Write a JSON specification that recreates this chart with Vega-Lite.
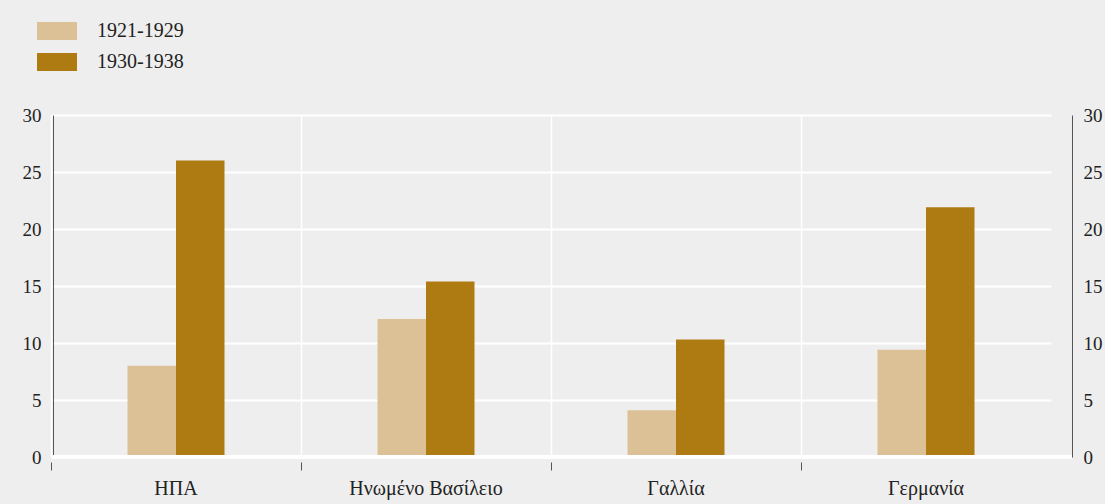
{
  "$schema": "https://vega.github.io/schema/vega-lite/v6.json",
  "width": 1019,
  "height": 342,
  "autosize": {"type": "none"},
  "padding": {"left": 53, "top": 115, "right": 33, "bottom": 47},
  "background": "#eeeeee",
  "config": {"view": {"stroke": null}, "font": "Liberation Serif"},
  "data": {
    "values": [
      {"country": "ΗΠΑ", "period": "1921-1929", "value": 8.0},
      {"country": "ΗΠΑ", "period": "1930-1938", "value": 26.0},
      {"country": "Ηνωμένο Βασίλειο", "period": "1921-1929", "value": 12.1},
      {"country": "Ηνωμένο Βασίλειο", "period": "1930-1938", "value": 15.4},
      {"country": "Γαλλία", "period": "1921-1929", "value": 4.1},
      {"country": "Γαλλία", "period": "1930-1938", "value": 10.3},
      {"country": "Γερμανία", "period": "1921-1929", "value": 9.4},
      {"country": "Γερμανία", "period": "1930-1938", "value": 21.9}
    ]
  },
  "layer": [
    {
      "mark": {"type": "bar"},
      "encoding": {
        "x": {
          "field": "country",
          "type": "nominal",
          "sort": ["ΗΠΑ", "Ηνωμένο Βασίλειο", "Γαλλία", "Γερμανία"],
          "scale": {"range": [-2, 998], "paddingInner": 0, "paddingOuter": 0},
          "axis": {
            "title": null,
            "orient": "bottom",
            "domain": false,
            "grid": true,
            "gridColor": "#ffffff",
            "gridWidth": 1.5,
            "bandPosition": 0,
            "ticks": true,
            "tickSize": 8,
            "tickColor": "#555555",
            "tickWidth": 1,
            "offset": 5,
            "labelAngle": 0,
            "labelFont": "Liberation Serif",
            "labelFontSize": 20,
            "labelColor": "#222222",
            "labelPadding": 8
          }
        },
        "xOffset": {
          "field": "period",
          "scale": {"range": [76.5, 173.5], "paddingOuter": 0, "paddingInner": 0}
        },
        "y": {
          "field": "value",
          "type": "quantitative",
          "scale": {"domain": [0, 30]},
          "axis": {
            "title": null,
            "orient": "left",
            "values": [0, 5, 10, 15, 20, 25, 30],
            "grid": true,
            "gridColor": "#ffffff",
            "gridWidth": 2,
            "domain": true,
            "domainColor": "#555555",
            "domainWidth": 1,
            "ticks": false,
            "labelFont": "Liberation Serif",
            "labelFontSize": 19,
            "labelColor": "#222222",
            "labelPadding": 12
          }
        },
        "color": {
          "field": "period",
          "type": "nominal",
          "scale": {"domain": ["1921-1929", "1930-1938"], "range": ["#dcc196", "#ad7b12"]},
          "legend": {
            "orient": "none",
            "legendX": -6,
            "legendY": -94,
            "title": null,
            "symbolType": "M-2,-0.9H2V0.9H-2Z",
            "symbolSize": 400,
            "symbolStrokeWidth": 0,
            "symbolOpacity": 1,
            "labelFont": "Liberation Serif",
            "labelFontSize": 20,
            "labelColor": "#222222",
            "labelOffset": 30,
            "rowPadding": 11,
            "padding": 0
          }
        }
      }
    },
    {
      "mark": {"type": "rule", "color": "#ffffff", "strokeWidth": 3},
      "encoding": {
        "y": {
          "datum": 0,
          "type": "quantitative",
          "axis": {
            "title": null,
            "orient": "right",
            "values": [0, 5, 10, 15, 20, 25, 30],
            "grid": false,
            "domain": true,
            "domainColor": "#555555",
            "domainWidth": 1,
            "ticks": false,
            "labelFont": "Liberation Serif",
            "labelFontSize": 19,
            "labelColor": "#222222",
            "labelPadding": 11
          }
        }
      }
    }
  ],
  "resolve": {"axis": {"y": "independent"}}
}
